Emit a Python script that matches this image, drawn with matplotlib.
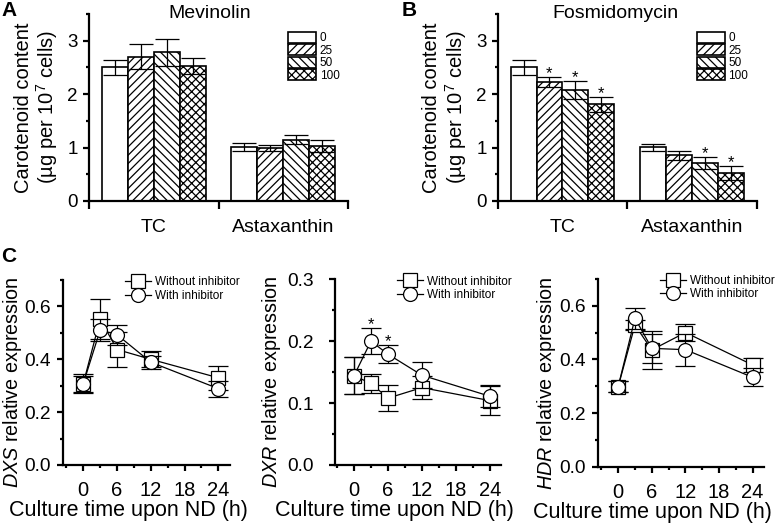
import matplotlib
matplotlib.use("Agg")
import matplotlib.pyplot as plt
import numpy as np
from matplotlib.ticker import MultipleLocator, FixedLocator

plt.rcParams['font.family'] = ['Liberation Sans', 'DejaVu Sans']
plt.rcParams['mathtext.fontset'] = 'custom'
plt.rcParams['mathtext.rm'] = 'Liberation Sans'
plt.rcParams['mathtext.it'] = 'Liberation Sans:italic'
plt.rcParams['hatch.linewidth'] = 0.9

# ---------------- data ----------------
groups = ['TC', 'Astaxanthin']
doses = ['0', '25', '50', '100']
hatches = ['', '////', '\\\\\\\\', 'xxxx']

mev_tc = [2.50, 2.70, 2.78, 2.53]
mev_tc_err = [0.145, 0.23, 0.25, 0.15]
mev_ax = [1.005, 0.99, 1.15, 1.03]
mev_ax_err = [0.075, 0.06, 0.08, 0.11]

fos_tc = [2.50, 2.23, 2.07, 1.81]
fos_tc_err = [0.145, 0.09, 0.17, 0.14]
fos_ax = [1.005, 0.855, 0.71, 0.52]
fos_ax_err = [0.07, 0.085, 0.11, 0.13]
fos_tc_sig = [False, True, True, True]
fos_ax_sig = [False, False, True, True]

time_h = [0, 3, 6, 12, 24]
dxs_without = [0.308, 0.552, 0.437, 0.400, 0.330]
dxs_without_err = [0.03, 0.077, 0.068, 0.03, 0.045]
dxs_with = [0.308, 0.511, 0.493, 0.389, 0.289]
dxs_with_err = [0.035, 0.04, 0.038, 0.025, 0.03]

dxr_without = [0.144, 0.132, 0.108, 0.125, 0.104]
dxr_without_err = [0.03, 0.015, 0.021, 0.018, 0.023]
dxr_with = [0.144, 0.200, 0.179, 0.145, 0.111]
dxr_with_err = [0.03, 0.021, 0.015, 0.021, 0.018]
dxr_with_sig = [False, True, True, False, False]

hdr_without = [0.298, 0.528, 0.435, 0.500, 0.379]
hdr_without_err = [0.02, 0.02, 0.07, 0.03, 0.025]
hdr_with = [0.298, 0.553, 0.441, 0.436, 0.333]
hdr_with_err = [0.02, 0.04, 0.055, 0.06, 0.033]

# ---------------- figure ----------------
fig = plt.figure(figsize=(7.83, 5.23), dpi=100)

SPINE_LW = 1.6
TICK_FS = 13.5
LABEL_FS = 14


def style_axes(ax):
    for s in ['top', 'right']:
        ax.spines[s].set_visible(False)
    for s in ['left', 'bottom']:
        ax.spines[s].set_linewidth(SPINE_LW)
    ax.tick_params(which='both', direction='out', width=SPINE_LW, labelsize=TICK_FS)
    ax.tick_params(which='major', length=4.5)
    ax.tick_params(which='minor', length=2.5)


def bar_panel(ax, tc, tc_err, axv, ax_err, tc_sig=None, ax_sig=None):
    offsets = [0.2, 0.4, 0.6, 0.8]
    handles = []
    for i in range(4):
        vals = [tc[i], axv[i]]
        errs = [tc_err[i], ax_err[i]]
        xs = [0 + offsets[i], 1 + offsets[i]]
        b = ax.bar(xs, vals, width=0.2, color='white', edgecolor='black',
                   linewidth=1.2, hatch=hatches[i], label=doses[i], zorder=2)
        ax.errorbar(xs, vals, yerr=errs, fmt='none', ecolor='black',
                    elinewidth=0.9, capsize=8.5, capthick=0.9, zorder=3)
        handles.append(b)
        sigs = [tc_sig[i] if tc_sig else False, ax_sig[i] if ax_sig else False]
        for x, v, e, s in zip(xs, vals, errs, sigs):
            if s:
                ax.annotate('*', (x, v + e), xytext=(0, -3), textcoords='offset points',
                            ha='center', va='bottom', fontsize=12)
    style_axes(ax)
    ax.set_xlim(0, 2)
    ax.set_ylim(0, 3.5)
    ax.yaxis.set_major_locator(FixedLocator([0, 1, 2, 3]))
    ax.yaxis.set_minor_locator(MultipleLocator(0.5))
    ax.set_xticks([0.5, 1.5])
    ax.set_xticklabels(groups, fontsize=LABEL_FS)
    ax.xaxis.set_minor_locator(FixedLocator([0, 1, 2]))
    ax.tick_params(axis='x', which='major', length=0, pad=13)
    ax.tick_params(axis='x', which='minor', length=6)
    ax.set_ylabel('Carotenoid content\n(µg per 10$^7$ cells)', fontsize=LABEL_FS + 0.5,
                  multialignment='center', labelpad=5, linespacing=1.1)
    leg = ax.legend(handles=handles, loc='upper left', bbox_to_anchor=(0.768, 0.905),
                    frameon=False, fontsize=8.5, handlelength=2.4, handleheight=1.05,
                    labelspacing=0.0, handletextpad=0.3, borderpad=0, borderaxespad=0)
    for p in leg.get_patches():
        p.set_linewidth(1.2)


axA = fig.add_axes([0.1137, 0.6157, 0.3308, 0.3576])
bar_panel(axA, mev_tc, mev_tc_err, mev_ax, mev_ax_err)
axB = fig.add_axes([0.6356, 0.6157, 0.3308, 0.3576])
bar_panel(axB, fos_tc, fos_tc_err, fos_ax, fos_ax_err, fos_tc_sig, fos_ax_sig)

fig.text(210 / 783, 1 - 18 / 523, 'Mevinolin', ha='center', va='baseline', fontsize=LABEL_FS)
fig.text(615 / 783, 1 - 18 / 523, 'Fosmidomycin', ha='center', va='baseline', fontsize=LABEL_FS)


def line_panel(ax, wo, wo_err, wi, wi_err, gene, ylim, yticks, xlim, xlab_x, ylab_x,
               ypad, wi_sig=None):
    ax.errorbar(time_h, wo, yerr=wo_err, fmt='none', ecolor='black', elinewidth=0.9,
                capsize=7, capthick=0.9, zorder=2)
    ax.plot(time_h, wo, '-', color='black', lw=0.9, marker='s', ms=9.5, mfc='white',
            mec='black', mew=0.9, label='Without inhibitor', zorder=3)
    ax.errorbar(time_h, wi, yerr=wi_err, fmt='none', ecolor='black', elinewidth=0.9,
                capsize=7, capthick=0.9, zorder=4)
    ax.plot(time_h, wi, '-', color='black', lw=0.9, marker='o', ms=10, mfc='white',
            mec='black', mew=0.9, label='With inhibitor', zorder=5)
    if wi_sig:
        for x, v, e, s in zip(time_h, wi, wi_err, wi_sig):
            if s:
                ax.annotate('*', (x, v + e), xytext=(0, -3), textcoords='offset points',
                            ha='center', va='bottom', fontsize=12)
    style_axes(ax)
    ax.set_xlim(*xlim)
    ax.set_ylim(*ylim)
    ax.set_yticks(yticks)
    ax.yaxis.set_minor_locator(MultipleLocator((yticks[1] - yticks[0]) / 2))
    ax.set_xticks([0, 6, 12, 18, 24])
    ax.xaxis.set_minor_locator(MultipleLocator(3))
    ax.tick_params(axis='x', which='major', labelsize=TICK_FS + 1, pad=7)
    ax.tick_params(axis='y', which='major', labelsize=TICK_FS + 0.3, pad=ypad)
    ax.set_xlabel('Culture time upon ND (h)', fontsize=LABEL_FS + 1.5)
    ax.xaxis.set_label_coords(xlab_x, -0.19)
    ax.set_ylabel('$\\it{' + gene + '}$ relative expression', fontsize=LABEL_FS + 0.2)
    ax.yaxis.set_label_coords(ylab_x, 0.446)
    ax.legend(loc='upper left', bbox_to_anchor=(0.375, 1.02), frameon=False,
              fontsize=8.5, handlelength=2.2, handletextpad=0.3, labelspacing=0.12,
              borderpad=0, borderaxespad=0)


axC1 = fig.add_axes([0.0805, 0.1109, 0.2127, 0.3537])
line_panel(axC1, dxs_without, dxs_without_err, dxs_with, dxs_with_err, 'DXS',
           (0, 0.7), [0.0, 0.2, 0.4, 0.6], (-3.6, 26), 0.39, -0.235, 4)
axC2 = fig.add_axes([0.4278, 0.1109, 0.2124, 0.3551])
line_panel(axC2, dxr_without, dxr_without_err, dxr_with, dxr_with_err, 'DXR',
           (0, 0.3), [0.0, 0.1, 0.2, 0.3], (-3.35, 26), 0.355, -0.31, 11, dxr_with_sig)
axC3 = fig.add_axes([0.7637, 0.1076, 0.2119, 0.3593])
line_panel(axC3, hdr_without, hdr_without_err, hdr_with, hdr_with_err, 'HDR',
           (0, 0.7), [0.0, 0.2, 0.4, 0.6], (-3.6, 26), 0.33, -0.24, 4)

fig.text(0.002, 0.998, 'A', ha='left', va='top', fontsize=15, fontweight='bold')
fig.text(402 / 783, 0.998, 'B', ha='left', va='top', fontsize=15, fontweight='bold')
fig.text(0.002, 1 - 247 / 523, 'C', ha='left', va='top', fontsize=15, fontweight='bold')

fig.savefig('out.png', dpi=100)
